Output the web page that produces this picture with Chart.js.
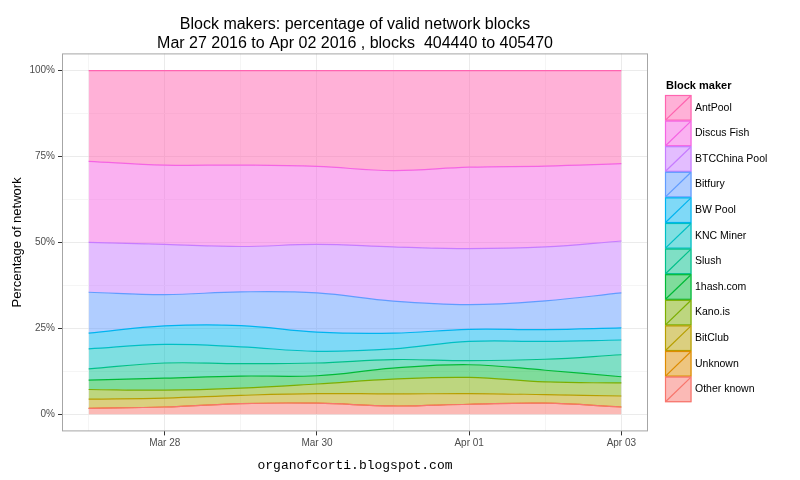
<!DOCTYPE html>
<html>
<head>
<meta charset="utf-8">
<script src="https://cdn.jsdelivr.net/npm/chart.js@4.4.1/dist/chart.umd.min.js"></script>
<style>
  html, body { margin: 0; padding: 0; background: #fff; }
  #wrap { width: 800px; height: 480px; }
</style>
</head>
<body>
<div id="wrap"><canvas id="area"></canvas></div>
<script>
// x axis days, index 0 = Mar 27
const days = ['Mar 27', 'Mar 28', 'Mar 29', 'Mar 30', 'Mar 31', 'Apr 01', 'Apr 02', 'Apr 03'];

// block makers, bottom of the stack first
const makers = ['Other known', 'Unknown', 'BitClub', 'Kano.is', '1hash.com', 'Slush',
                'KNC Miner', 'BW Pool', 'Bitfury', 'BTCChina Pool', 'Discus Fish', 'AntPool'];

// percentage of blocks per day
const otherKnown = [1.7, 2.1, 3.1, 3.2, 2.4, 2.9, 3.2, 2.1];
const unknown    = [0, 0, 0, 0, 0, 0, 0, 0];
const bitClub    = [2.7, 2.6, 2.4, 2.8, 3.5, 3.1, 2.5, 3.2];
const kanoIs     = [2.8, 2.3, 2.1, 2.8, 4.3, 4.7, 3.7, 3.8];
const oneHash    = [2.7, 3.5, 3.5, 2.4, 3.2, 3.7, 3.4, 1.8];
const slush      = [3.3, 4.4, 3.6, 3.7, 2.5, 1.2, 3.2, 6.4];
const kncMiner   = [5.8, 5.4, 4.9, 3.4, 3.1, 5.6, 5.2, 4.3];
const bwPool     = [4.6, 5.4, 6.2, 5.6, 4.6, 3.5, 3.4, 3.5];
const bitfury    = [11.9, 9.1, 9.8, 11.4, 9.3, 7.2, 8.4, 10.2];
const btcChina   = [14.5, 14.6, 13.2, 14.1, 15.8, 16.3, 15.7, 15.1];
const discusFish = [23.6, 23.1, 23.7, 22.7, 22.2, 23.7, 23.5, 22.5];
const antPool    = [26.4, 27.5, 27.5, 27.9, 29.1, 28.1, 27.8, 27.1];

// y ticks (minor every 12.5, labels on the 25s)
const yTicks = [0, 12.5, 25, 37.5, 50, 62.5, 75, 87.5, 100];

const series = [otherKnown, unknown, bitClub, kanoIs, oneHash, slush,
                kncMiner, bwPool, bitfury, btcChina, discusFish, antPool];

const colours = ['#F8766D', '#DE8C00', '#B79F00', '#7CAE00', '#00BA38', '#00C08B',
                 '#00BFC4', '#00B4F0', '#619CFF', '#C77CFF', '#F564E3', '#FF64B0'];

function fade(hex, a) {
    const n = parseInt(hex.slice(1), 16);
    return 'rgba(' + (n >> 16) + ',' + ((n >> 8) & 255) + ',' + (n & 255) + ',' + a + ')';
}

const datasets = makers.map((name, i) => ({
    label: name,
    data: series[i].map((v, d) => ({ x: d, y: v })),
    borderColor: colours[i],
    backgroundColor: fade(colours[i], 0.5),
    borderWidth: 1.2,
    pointRadius: 0,
    tension: 0.4,
    fill: i === 0 ? 'origin' : '-1',
}));

const FONT = "'Liberation Sans', Arial, sans-serif";

// ggplot-ish legend keys with a diagonal, plus the panel border
const makerKey = {
    id: 'makerKey',
    afterDraw(chart) {
        const ctx = chart.ctx;
        const area = chart.chartArea;
        ctx.save();
        ctx.strokeStyle = '#a6a6a6';
        ctx.lineWidth = 1;
        ctx.strokeRect(area.left + 0.5, area.top + 0.5, area.right - area.left - 1, area.bottom - area.top - 1);

        const x0 = 665, w = 26.5, h = 25.6, y0 = 95;
        ctx.fillStyle = '#000';
        ctx.font = 'bold 11px ' + FONT;
        ctx.textBaseline = 'middle';
        ctx.fillText('Block maker', 666, 86);
        ctx.font = '10.5px ' + FONT;
        const n = chart.data.datasets.length;
        for (let k = 0; k < n; k++) {
            const ds = chart.data.datasets[n - 1 - k];
            const y = y0 + k * h;
            ctx.fillStyle = ds.backgroundColor;
            ctx.fillRect(x0, y, w, h);
            ctx.strokeStyle = ds.borderColor;
            ctx.lineWidth = 1.2;
            ctx.strokeRect(x0 + 0.5, y + 0.5, w - 1, h - 1);
            ctx.beginPath();
            ctx.moveTo(x0 + 1, y + h - 1);
            ctx.lineTo(x0 + w - 1, y + 1);
            ctx.stroke();
            ctx.fillStyle = '#000';
            ctx.fillText(ds.label, 695, y + h / 2);
        }
        ctx.restore();
    }
};

new Chart(document.getElementById('area'), {
    type: 'line',
    data: { datasets: datasets },
    plugins: [makerKey],
    options: {
        responsive: true,
        maintainAspectRatio: false,
        animation: false,
        layout: { padding: { left: 0, right: 152, top: 0, bottom: 0 } },
        plugins: {
            legend: { display: false },
            tooltip: { enabled: false },
            title: {
                display: true,
                fullSize: false,
                text: ['Block makers: percentage of valid network blocks',
                       'Mar 27 2016 to Apr 02 2016 , blocks  404440 to 405470'],
                font: { family: FONT, size: 16, weight: 'normal', lineHeight: 1.2 },
                color: '#000',
                padding: { top: 15, bottom: 0 },
            },
            subtitle: {
                display: true,
                position: 'bottom',
                fullSize: false,
                text: 'organofcorti.blogspot.com',
                font: { family: "'Liberation Mono', 'Courier New', monospace", size: 13, lineHeight: 1.2 },
                color: '#000',
                padding: { top: 2, bottom: 7 },
            },
        },
        scales: {
            x: {
                type: 'linear',
                min: -0.35,
                max: 7.35,
                afterBuildTicks: s => { s.ticks = days.map((d, i) => ({ value: i })); },
                afterFit: s => { s.height = 24; },
                ticks: {
                    autoSkip: false,
                    maxRotation: 0,
                    padding: 2,
                    color: '#4d4d4d',
                    font: { family: FONT, size: 10 },
                    callback: v => (v % 2 === 1 ? days[v] : ''),
                },
                grid: {
                    color: c => (c.tick && c.tick.value % 2 === 1 ? '#ebebeb' : '#f5f5f5'),
                    tickColor: c => (c.tick && c.tick.value % 2 === 1 ? '#333' : 'rgba(0,0,0,0)'),
                    tickLength: 4,
                    lineWidth: 1,
                },
                border: { display: false },
            },
            y: {
                stacked: true,
                min: -5,
                max: 105,
                afterBuildTicks: s => { s.ticks = yTicks.map(v => ({ value: v })); },
                afterFit: s => { s.width = 62; },
                ticks: {
                    padding: 3,
                    color: '#4d4d4d',
                    font: { family: FONT, size: 10 },
                    callback: v => (v % 25 === 0 ? v + '%' : ''),
                },
                grid: {
                    color: c => (c.tick && c.tick.value % 25 === 0 ? '#ebebeb' : '#f5f5f5'),
                    tickColor: c => (c.tick && c.tick.value % 25 === 0 ? '#333' : 'rgba(0,0,0,0)'),
                    tickLength: 4,
                    lineWidth: 1,
                },
                border: { display: false },
                title: {
                    display: true,
                    text: 'Percentage of network',
                    color: '#000',
                    font: { family: FONT, size: 13 },
                    padding: { top: 10, bottom: 0 },
                },
            },
        },
    },
});
</script>
</body>
</html>
